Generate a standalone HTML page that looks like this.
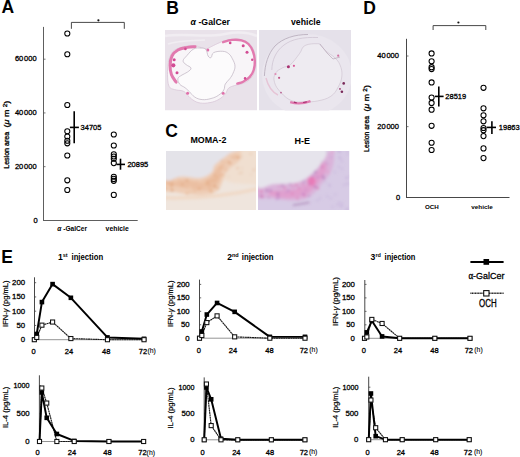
<!DOCTYPE html>
<html><head><meta charset="utf-8"><style>
html,body{margin:0;padding:0;background:#fff;}
body{width:520px;height:457px;overflow:hidden;}
svg{display:block;font-family:"Liberation Sans", sans-serif;}
</style></head><body>
<svg width="520" height="457" viewBox="0 0 520 457">
<rect width="520" height="457" fill="#fff"/>
<text x="1.5" y="12.8" font-size="17.5" font-weight="bold">A</text>
<text x="166.3" y="13.6" font-size="17.5" font-weight="bold">B</text>
<text x="165.3" y="137.3" font-size="17.5" font-weight="bold">C</text>
<text x="363.3" y="14.1" font-size="17.5" font-weight="bold">D</text>
<text x="1.2" y="262.8" font-size="17.5" font-weight="bold">E</text>
<line x1="43.5" y1="26.9" x2="43.5" y2="221.0" stroke="#5e5e5e" stroke-width="1"/>
<line x1="43.0" y1="220.5" x2="137.7" y2="220.5" stroke="#5e5e5e" stroke-width="1"/>
<line x1="43.5" y1="59.20000000000002" x2="45.5" y2="59.20000000000002" stroke="#555" stroke-width="0.8"/>
<text x="36.6" y="61.40000000000002" font-size="7.5" text-anchor="end" stroke="#000" stroke-width="0.3">60<tspan dx="0.8">000</tspan></text>
<line x1="43.5" y1="112.93333333333334" x2="45.5" y2="112.93333333333334" stroke="#555" stroke-width="0.8"/>
<text x="36.6" y="115.13333333333334" font-size="7.5" text-anchor="end" stroke="#000" stroke-width="0.3">40<tspan dx="0.8">000</tspan></text>
<line x1="43.5" y1="166.66666666666669" x2="45.5" y2="166.66666666666669" stroke="#555" stroke-width="0.8"/>
<text x="36.6" y="168.86666666666667" font-size="7.5" text-anchor="end" stroke="#000" stroke-width="0.3">20<tspan dx="0.8">000</tspan></text>
<text x="37.6" y="222.6" font-size="7.5" text-anchor="end" stroke="#000" stroke-width="0.3">0</text>
<circle cx="67.3" cy="33.5" r="2.55" fill="none" stroke="#000" stroke-width="1.05"/>
<circle cx="67.3" cy="54.2" r="2.55" fill="none" stroke="#000" stroke-width="1.05"/>
<circle cx="67.3" cy="105.0" r="2.55" fill="none" stroke="#000" stroke-width="1.05"/>
<circle cx="67.3" cy="131.2" r="2.55" fill="none" stroke="#000" stroke-width="1.05"/>
<circle cx="67.3" cy="136.5" r="2.55" fill="none" stroke="#000" stroke-width="1.05"/>
<circle cx="67.3" cy="140.7" r="2.55" fill="none" stroke="#000" stroke-width="1.05"/>
<circle cx="67.3" cy="143.3" r="2.55" fill="none" stroke="#000" stroke-width="1.05"/>
<circle cx="67.3" cy="155.5" r="2.55" fill="none" stroke="#000" stroke-width="1.05"/>
<circle cx="67.3" cy="180.3" r="2.55" fill="none" stroke="#000" stroke-width="1.05"/>
<circle cx="67.3" cy="190.0" r="2.55" fill="none" stroke="#000" stroke-width="1.05"/>
<line x1="74.2" y1="111.3" x2="74.2" y2="143.3" stroke="#000" stroke-width="1.6"/>
<line x1="69.9" y1="127.4" x2="78.9" y2="127.4" stroke="#000" stroke-width="1.6"/>
<text x="80.6" y="129.70000000000002" font-size="7.5" stroke="#000" stroke-width="0.3">34705</text>
<circle cx="113.8" cy="134.5" r="2.55" fill="none" stroke="#000" stroke-width="1.05"/>
<circle cx="113.8" cy="145.5" r="2.55" fill="none" stroke="#000" stroke-width="1.05"/>
<circle cx="113.8" cy="154.2" r="2.55" fill="none" stroke="#000" stroke-width="1.05"/>
<circle cx="113.8" cy="156.5" r="2.55" fill="none" stroke="#000" stroke-width="1.05"/>
<circle cx="113.8" cy="158.7" r="2.55" fill="none" stroke="#000" stroke-width="1.05"/>
<circle cx="113.8" cy="163.1" r="2.55" fill="none" stroke="#000" stroke-width="1.05"/>
<circle cx="113.8" cy="176.7" r="2.55" fill="none" stroke="#000" stroke-width="1.05"/>
<circle cx="113.8" cy="178.9" r="2.55" fill="none" stroke="#000" stroke-width="1.05"/>
<circle cx="113.8" cy="180.8" r="2.55" fill="none" stroke="#000" stroke-width="1.05"/>
<circle cx="113.8" cy="194.9" r="2.55" fill="none" stroke="#000" stroke-width="1.05"/>
<line x1="120.5" y1="158.7" x2="120.5" y2="169.7" stroke="#000" stroke-width="1.6"/>
<line x1="116.4" y1="164.4" x2="125.0" y2="164.4" stroke="#000" stroke-width="1.6"/>
<text x="127.4" y="166.70000000000002" font-size="7.5" stroke="#000" stroke-width="0.3">20895</text>
<path d="M71.4 28.8V22.4H124.3V28.8" fill="none" stroke="#333" stroke-width="0.9"/>
<circle cx="98.4" cy="20.3" r="1.1" fill="#111"/>
<text x="57.3" y="231.2" font-size="7.1" font-weight="bold" textLength="29.7" lengthAdjust="spacingAndGlyphs"><tspan font-style="italic">α</tspan> -GalCer</text>
<text x="105.6" y="231.2" font-size="7.1" font-weight="bold" textLength="23.2" lengthAdjust="spacingAndGlyphs">vehicle</text>
<text x="8.9" y="168.8" font-size="7" textLength="37" lengthAdjust="spacingAndGlyphs" transform="rotate(-90 8.9 168.8)" stroke="#000" stroke-width="0.3">Lesion area</text>
<text x="8.9" y="127.4" font-size="7" textLength="26.6" lengthAdjust="spacingAndGlyphs" transform="rotate(-90 8.9 127.4)" stroke="#000" stroke-width="0.3">(<tspan font-style="italic">μ</tspan> m <tspan font-size="5" dy="-2">2</tspan><tspan dy="2">)</tspan></text>
<line x1="406.5" y1="38.8" x2="406.5" y2="198.0" stroke="#474747" stroke-width="1"/>
<line x1="406.0" y1="197.5" x2="509.5" y2="197.5" stroke="#474747" stroke-width="1"/>
<line x1="406.5" y1="56.0" x2="408.5" y2="56.0" stroke="#555" stroke-width="0.8"/>
<text x="398.9" y="58.2" font-size="7.5" text-anchor="end" stroke="#000" stroke-width="0.3">40<tspan dx="0.8">000</tspan></text>
<line x1="406.5" y1="126.65" x2="408.5" y2="126.65" stroke="#555" stroke-width="0.8"/>
<text x="398.9" y="128.85" font-size="7.5" text-anchor="end" stroke="#000" stroke-width="0.3">20<tspan dx="0.8">000</tspan></text>
<text x="400.1" y="199.5" font-size="7.5" text-anchor="end" stroke="#000" stroke-width="0.3">0</text>
<circle cx="431.6" cy="53.4" r="2.55" fill="none" stroke="#000" stroke-width="1.05"/>
<circle cx="431.6" cy="61.2" r="2.55" fill="none" stroke="#000" stroke-width="1.05"/>
<circle cx="431.6" cy="67.2" r="2.55" fill="none" stroke="#000" stroke-width="1.05"/>
<circle cx="431.6" cy="69.1" r="2.55" fill="none" stroke="#000" stroke-width="1.05"/>
<circle cx="431.6" cy="82.4" r="2.55" fill="none" stroke="#000" stroke-width="1.05"/>
<circle cx="431.6" cy="97.6" r="2.55" fill="none" stroke="#000" stroke-width="1.05"/>
<circle cx="431.6" cy="102.9" r="2.55" fill="none" stroke="#000" stroke-width="1.05"/>
<circle cx="431.6" cy="109.7" r="2.55" fill="none" stroke="#000" stroke-width="1.05"/>
<circle cx="431.6" cy="125.8" r="2.55" fill="none" stroke="#000" stroke-width="1.05"/>
<circle cx="431.6" cy="142.7" r="2.55" fill="none" stroke="#000" stroke-width="1.05"/>
<circle cx="431.6" cy="150.0" r="2.55" fill="none" stroke="#000" stroke-width="1.05"/>
<line x1="438.8" y1="86.5" x2="438.8" y2="106.5" stroke="#000" stroke-width="1.6"/>
<line x1="435.0" y1="96.4" x2="443.6" y2="96.4" stroke="#000" stroke-width="1.6"/>
<text x="445.3" y="98.7" font-size="7.5" stroke="#000" stroke-width="0.3">28519</text>
<circle cx="483.5" cy="87.8" r="2.55" fill="none" stroke="#000" stroke-width="1.05"/>
<circle cx="483.5" cy="108.3" r="2.55" fill="none" stroke="#000" stroke-width="1.05"/>
<circle cx="483.5" cy="115.3" r="2.55" fill="none" stroke="#000" stroke-width="1.05"/>
<circle cx="483.5" cy="121.3" r="2.55" fill="none" stroke="#000" stroke-width="1.05"/>
<circle cx="483.5" cy="128.0" r="2.55" fill="none" stroke="#000" stroke-width="1.05"/>
<circle cx="483.5" cy="130.2" r="2.55" fill="none" stroke="#000" stroke-width="1.05"/>
<circle cx="483.5" cy="136.1" r="2.55" fill="none" stroke="#000" stroke-width="1.05"/>
<circle cx="483.5" cy="148.4" r="2.55" fill="none" stroke="#000" stroke-width="1.05"/>
<circle cx="483.5" cy="158.1" r="2.55" fill="none" stroke="#000" stroke-width="1.05"/>
<line x1="491.9" y1="121.3" x2="491.9" y2="133.9" stroke="#000" stroke-width="1.6"/>
<line x1="486.7" y1="127.4" x2="496.0" y2="127.4" stroke="#000" stroke-width="1.6"/>
<text x="498.8" y="129.70000000000002" font-size="7.5" stroke="#000" stroke-width="0.3">19863</text>
<path d="M433.1 30.0V25.6H485.8V30.0" fill="none" stroke="#333" stroke-width="0.9"/>
<circle cx="458.4" cy="22.5" r="1.1" fill="#111"/>
<text x="425.0" y="209.3" font-size="6.1" font-weight="bold" textLength="13.8" lengthAdjust="spacingAndGlyphs">OCH</text>
<text x="471.3" y="209.3" font-size="6.1" font-weight="bold" textLength="21.5" lengthAdjust="spacingAndGlyphs">vehicle</text>
<text x="369.2" y="151.9" font-size="6.8" textLength="36" lengthAdjust="spacingAndGlyphs" transform="rotate(-90 369.2 151.9)" stroke="#000" stroke-width="0.3">Lesion area</text>
<text x="369.2" y="111.4" font-size="6.8" textLength="26.2" lengthAdjust="spacingAndGlyphs" transform="rotate(-90 369.2 111.4)" stroke="#000" stroke-width="0.3">(<tspan font-style="italic">μ</tspan> m <tspan font-size="5" dy="-2">2</tspan><tspan dy="2">)</tspan></text>
<defs>
<filter id="bl1" x="-10%" y="-10%" width="120%" height="120%"><feGaussianBlur stdDeviation="0.6"/></filter>
<filter id="bl2" x="-10%" y="-10%" width="120%" height="120%"><feGaussianBlur stdDeviation="1.4"/></filter>
<clipPath id="cb1"><rect x="165" y="30" width="92" height="80.5"/></clipPath>
<clipPath id="cb2"><rect x="259" y="30" width="92" height="80.5"/></clipPath>
<clipPath id="cc1"><rect x="166" y="151" width="90" height="59"/></clipPath>
<clipPath id="cc2"><rect x="258" y="151" width="91.5" height="59"/></clipPath>
</defs>
<g clip-path="url(#cb1)">
<rect x="165" y="30" width="92" height="80.5" fill="#e9e2ea"/>
<g filter="url(#bl1)">
<path d="M165 36 C185 33 205 38 225 34 C240 31 250 33 257 36" fill="none" stroke="#f1edf2" stroke-width="2.5"/>
<path d="M168 44 C180 40 192 41 205 40" fill="none" stroke="#f1edf2" stroke-width="1.5"/>
<path d="M169.5 57.9 C170.7 55.1 171.4 52.6 174.2 50.4 C177.0 48.2 179.4 47.6 183.5 46.7 C187.6 45.8 191.2 45.5 194.7 45.7 C198.2 45.9 198.9 47.0 201.2 47.6 C203.5 48.2 204.2 49.2 206.3 48.9 C208.4 48.6 209.4 47.5 211.9 46.3 C214.4 45.1 216.1 44.1 219.0 42.9 C221.9 41.7 222.7 41.0 226.4 40.3 C230.1 39.6 233.5 38.9 237.6 39.2 C241.7 39.5 243.9 39.9 247.0 41.8 C250.1 43.7 251.2 45.3 252.9 48.5 C254.6 51.7 254.9 53.8 255.4 57.9 C255.9 62.0 256.1 65.0 255.2 69.0 C254.3 73.0 253.4 75.2 251.1 78.0 C248.8 80.8 246.9 81.7 243.6 83.2 C240.3 84.7 237.8 84.5 234.8 85.5 C231.8 86.5 230.6 86.5 228.7 88.1 C226.8 89.7 227.4 91.5 225.5 93.7 C223.6 95.9 222.1 97.5 219.0 99.3 C215.9 101.1 213.7 101.9 210.0 102.6 C206.3 103.3 203.7 103.5 200.3 103.0 C196.9 102.5 195.4 101.6 192.9 100.0 C190.4 98.4 189.6 97.0 187.6 95.2 C185.6 93.4 185.7 92.2 183.1 91.1 C180.5 90.0 177.4 90.6 174.6 89.6 C171.8 88.6 170.4 89.2 169.0 86.2 C167.6 83.2 167.7 79.0 167.5 74.6 C167.3 70.2 167.8 67.7 168.2 64.4 C168.6 61.1 168.3 60.7 169.5 57.9 Z" fill="#f8f5f8" stroke="#d9c8d8" stroke-width="0.8"/>
<path d="M176.1 82.1 C175.2 80.6 172.6 78.0 171.4 74.6 C170.2 71.2 170.0 69.0 170.1 65.3 C170.2 61.6 170.4 59.1 172.0 56.0 C173.6 52.9 174.8 51.7 177.9 50.0 C181.0 48.3 183.9 48.1 187.3 47.4 C190.7 46.7 193.5 46.8 195.1 46.7" fill="none" stroke="#e27aaf" stroke-width="3.0" stroke-linecap="round"/>
<path d="M223.1 42.2 C224.9 41.7 228.3 40.3 232.0 39.9 C235.7 39.5 238.1 39.5 241.4 40.3 C244.7 41.1 246.1 41.8 248.4 44.0 C250.7 46.2 251.6 48.0 252.9 51.3 C254.2 54.6 254.6 56.9 254.8 60.6 C255.0 64.3 254.7 66.7 253.7 70.0 C252.7 73.3 251.9 74.6 249.8 76.9 C247.7 79.2 245.7 80.4 243.2 81.7 C240.7 83.0 238.5 83.2 237.3 83.6" fill="none" stroke="#e27aaf" stroke-width="2.4" stroke-linecap="round"/>
<circle cx="173.3" cy="65.3" r="2.1" fill="#d24c94"/>
<circle cx="174.2" cy="59.7" r="1.5" fill="#d24c94"/>
<circle cx="177.0" cy="72.8" r="1.5" fill="#d24c94"/>
<circle cx="185.4" cy="48.9" r="1.3" fill="#d24c94"/>
<circle cx="230.2" cy="42.9" r="1.3" fill="#d24c94"/>
<circle cx="243.2" cy="45.7" r="1.5" fill="#d24c94"/>
<circle cx="247.0" cy="52.3" r="1.5" fill="#d24c94"/>
<circle cx="252.2" cy="59.7" r="1.2" fill="#d24c94"/>
<circle cx="245.1" cy="78.4" r="1.3" fill="#d24c94"/>
<circle cx="207.8" cy="50.0" r="1.5" fill="#e070aa"/>
<circle cx="187.6" cy="93.3" r="1.5" fill="#e070aa"/>
<circle cx="223.1" cy="93.3" r="1.5" fill="#e070aa"/>
<path d="M193.8 48.9 C196.7 47.4 198.8 48.0 201.2 48.1 C203.6 48.2 204.5 47.9 205.9 49.5 C207.3 51.1 207.1 54.4 208.1 56.0 C209.1 57.6 210.0 58.2 211.1 57.5 C212.2 56.8 211.4 53.8 213.7 52.6 C216.0 51.4 219.7 51.1 222.7 51.3 C225.7 51.5 226.8 52.2 228.7 53.7 C230.6 55.2 231.1 56.3 232.4 58.8 C233.7 61.3 234.9 63.3 235.0 66.2 C235.1 69.1 234.1 70.6 233.1 73.1 C232.1 75.6 231.4 76.5 229.8 78.7 C228.2 80.9 226.5 81.8 225.3 84.0 C224.1 86.2 225.1 87.7 223.8 89.9 C222.5 92.1 221.1 93.5 218.6 95.2 C216.1 96.9 214.4 97.6 211.1 98.5 C207.8 99.4 205.5 99.9 202.2 99.6 C198.9 99.3 197.2 98.6 194.7 97.0 C192.2 95.4 191.4 93.7 189.5 91.8 C187.6 89.9 186.9 89.2 185.0 87.7 C183.1 86.2 181.2 86.1 179.8 84.3 C178.4 82.5 177.5 80.6 177.9 78.7 C178.3 76.8 180.1 76.3 182.0 75.0 C183.9 73.7 185.8 73.4 187.6 72.0 C189.4 70.6 191.3 69.6 191.0 68.1 C190.7 66.6 187.7 66.1 186.1 64.6 C184.5 63.1 182.9 62.6 183.1 60.8 C183.3 59.0 184.8 58.0 186.9 55.6 C189.0 53.2 190.9 50.4 193.8 48.9 Z" fill="#fcfbfc" stroke="#bdb2c0" stroke-width="0.7"/>
</g></g>
<g clip-path="url(#cb2)">
<rect x="259" y="30" width="92" height="80.5" fill="#e5e1ea"/>
<g filter="url(#bl1)">
<ellipse cx="307" cy="75" rx="45" ry="41" fill="#eae6ee"/>
<path d="M290.2 64.9 C293.5 62.1 296.4 57.7 299.4 53.8 C302.4 49.9 301.3 47.5 305.0 45.5 C308.7 43.5 314.8 43.7 317.9 43.7 C321.0 43.7 318.9 43.8 320.7 45.5 C322.5 47.2 324.3 49.6 327.1 52.0 C329.9 54.4 331.9 54.9 334.5 57.5 C337.1 60.1 338.5 61.2 340.0 64.9 C341.5 68.6 342.3 71.6 341.9 76.0 C341.5 80.4 340.4 82.9 338.2 87.0 C336.0 91.1 334.9 93.5 330.8 96.3 C326.7 99.1 323.1 99.8 317.9 100.9 C312.7 102.0 310.2 101.8 305.0 101.8 C299.8 101.8 296.9 102.7 292.1 100.9 C287.3 99.1 284.5 96.3 281.0 92.6 C277.5 88.9 275.6 86.3 274.5 82.4 C273.4 78.5 273.8 76.1 275.5 73.2 C277.2 70.3 279.9 69.4 282.8 67.7 C285.7 66.0 286.9 67.7 290.2 64.9 Z" fill="#eeebf1" stroke="#cbc0cd" stroke-width="0.6"/>
<path d="M264.4 76 C265 64 268 54 275 46 C283 38 295 34.5 308 34.5" fill="none" stroke="#b4a8b8" stroke-width="0.8"/>
<path d="M271.8 70 C272 60 276 51 284 45 C292 39 303 37 318 37.5" fill="none" stroke="#cfc5d3" stroke-width="0.8"/>
<path d="M320 44 L327 53 L333 59 L340 57" fill="none" stroke="#b8a8b8" stroke-width="0.7"/>
<path d="M266 78 C268 86 272 92 278 95" fill="none" stroke="#e6c4d6" stroke-width="1.4"/>
<circle cx="288.4" cy="66.7" r="1.5" fill="#a83070"/>
<circle cx="293.9" cy="65.8" r="1.1" fill="#d85898"/>
<circle cx="343.7" cy="83.4" r="1.3" fill="#7a2a5a"/>
<circle cx="341.9" cy="91.7" r="1.3" fill="#7a2a5a"/>
<circle cx="340.0" cy="88.9" r="0.9" fill="#9a3a70"/>
<circle cx="279.1" cy="77.8" r="1.1" fill="#c05a8a"/>
<circle cx="281.0" cy="92.6" r="0.9" fill="#b86090"/>
<circle cx="338.2" cy="55.7" r="1.1" fill="#d070a0"/>
<circle cx="275.5" cy="74.1" r="1.1" fill="#e090b8"/>
<path d="M290.2 102.2 Q300.4 105.1 310.5 101.1" stroke="#e07ab0" stroke-width="2.4" fill="none"/>
<path d="M293.9 102.2 L296.7 102.9 M303.1 102.5 L306.8 101.8" stroke="#a83070" stroke-width="1.2" fill="none"/>
</g></g>
<g clip-path="url(#cc1)">
<rect x="166" y="151" width="90" height="59" fill="#efe5dd"/>
<g filter="url(#bl2)">
<path d="M218.2 149 H258 V185.2 C245.4 183.4 227.3 185.2 218.2 176.1 Z" fill="#f0dfd0"/>
<path d="M164.0 177.9 C167.6 175.1 174.9 176.2 182.1 176.1 C189.3 176.0 194.3 178.5 200.2 177.6 C206.1 176.7 208.5 174.2 211.4 171.6 C214.3 169.0 212.1 167.3 214.6 164.4 C217.1 161.5 220.4 159.6 223.7 157.1 C227.0 154.6 227.7 153.1 230.9 151.7 C234.1 150.3 238.1 148.3 239.9 149.9 C241.7 151.5 242.1 156.0 239.9 159.8 C237.7 163.6 232.3 165.3 229.1 168.9 C225.9 172.5 225.9 173.7 223.7 177.9 C221.5 182.1 221.5 186.4 218.2 189.7 C214.9 193.0 212.8 193.2 207.4 194.2 C202.0 195.2 197.6 195.0 191.1 194.6 C184.6 194.2 180.2 192.9 174.8 192.0 C169.4 191.1 166.2 193.0 164.0 190.2 C161.8 187.4 160.4 180.7 164.0 177.9 Z" fill="#eecdb6"/>
<path d="M167.6 181.5 C170.7 180.4 175.6 179.8 182.1 179.7 C188.6 179.6 194.3 181.9 200.2 181.2 C206.1 180.5 208.2 178.6 211.4 176.1 C214.6 173.6 213.9 171.4 216.4 168.9 C218.9 166.4 222.6 162.4 223.7 163.5 C224.8 164.6 223.4 170.0 221.9 174.3 C220.4 178.6 219.7 182.1 216.4 185.2 C213.1 188.3 210.7 188.9 205.6 189.7 C200.5 190.5 197.3 189.8 191.1 189.1 C184.9 188.4 179.7 186.9 174.8 186.1 C169.9 185.3 168.1 186.1 166.7 185.2 C165.3 184.3 164.5 182.6 167.6 181.5 Z" fill="#ebbfa2"/>
<circle cx="206.5" cy="184.3" r="0.92" fill="#dc9c70"/>
<circle cx="221.7" cy="160.7" r="0.81" fill="#dc9c70"/>
<circle cx="166.8" cy="178.2" r="1.01" fill="#dc9c70"/>
<circle cx="172.0" cy="190.3" r="1.30" fill="#dc9c70"/>
<circle cx="235.3" cy="156.4" r="1.09" fill="#e8b48c"/>
<circle cx="165.0" cy="178.3" r="0.72" fill="#dc9c70"/>
<circle cx="216.6" cy="177.2" r="1.29" fill="#e8b48c"/>
<circle cx="177.8" cy="176.8" r="1.14" fill="#e4a678"/>
<circle cx="218.8" cy="164.3" r="0.86" fill="#f2d2b8"/>
<circle cx="209.5" cy="185.2" r="0.73" fill="#dc9c70"/>
<circle cx="220.7" cy="175.6" r="0.68" fill="#e4a678"/>
<circle cx="210.2" cy="181.8" r="0.69" fill="#e4a678"/>
<circle cx="209.1" cy="190.2" r="0.80" fill="#e4a678"/>
<circle cx="166.0" cy="189.1" r="0.65" fill="#dc9c70"/>
<circle cx="170.8" cy="177.5" r="1.12" fill="#f2d2b8"/>
<circle cx="217.8" cy="188.4" r="0.87" fill="#dc9c70"/>
<circle cx="207.5" cy="183.1" r="0.82" fill="#e4a678"/>
<circle cx="221.5" cy="181.7" r="1.06" fill="#f2d2b8"/>
<circle cx="194.7" cy="191.0" r="1.04" fill="#e8b48c"/>
<circle cx="174.6" cy="178.7" r="1.18" fill="#e8b48c"/>
<circle cx="200.0" cy="181.8" r="1.10" fill="#f2d2b8"/>
<circle cx="190.1" cy="187.3" r="1.00" fill="#f2d2b8"/>
<circle cx="223.1" cy="177.1" r="1.27" fill="#f2d2b8"/>
<circle cx="228.3" cy="161.6" r="0.78" fill="#dc9c70"/>
<circle cx="229.8" cy="163.1" r="1.25" fill="#dc9c70"/>
<circle cx="231.9" cy="157.2" r="0.74" fill="#dc9c70"/>
<circle cx="215.7" cy="190.1" r="0.92" fill="#f2d2b8"/>
<circle cx="225.2" cy="161.9" r="0.75" fill="#e4a678"/>
<circle cx="205.4" cy="183.7" r="0.94" fill="#f2d2b8"/>
<circle cx="238.1" cy="157.9" r="1.30" fill="#e8b48c"/>
<circle cx="205.3" cy="184.2" r="0.97" fill="#e8b48c"/>
<circle cx="214.4" cy="180.7" r="0.62" fill="#dc9c70"/>
<circle cx="216.9" cy="179.9" r="0.65" fill="#e8b48c"/>
<circle cx="214.6" cy="175.1" r="0.79" fill="#dc9c70"/>
<circle cx="185.4" cy="192.3" r="1.11" fill="#f2d2b8"/>
<circle cx="187.0" cy="180.4" r="1.11" fill="#dc9c70"/>
<circle cx="175.5" cy="181.2" r="1.10" fill="#f2d2b8"/>
<circle cx="166.2" cy="188.9" r="0.98" fill="#e8b48c"/>
<circle cx="215.0" cy="186.0" r="0.76" fill="#e8b48c"/>
<circle cx="238.3" cy="156.9" r="1.04" fill="#dc9c70"/>
<circle cx="239.1" cy="155.1" r="1.24" fill="#f2d2b8"/>
<circle cx="211.3" cy="192.2" r="1.16" fill="#e8b48c"/>
<circle cx="190.6" cy="191.4" r="0.69" fill="#e4a678"/>
<circle cx="228.0" cy="153.9" r="0.83" fill="#e4a678"/>
<circle cx="207.9" cy="181.5" r="0.75" fill="#dc9c70"/>
<circle cx="199.1" cy="188.9" r="1.19" fill="#e4a678"/>
<circle cx="181.0" cy="177.6" r="0.88" fill="#f2d2b8"/>
<circle cx="223.2" cy="174.5" r="0.95" fill="#e8b48c"/>
<circle cx="231.9" cy="153.4" r="0.81" fill="#f2d2b8"/>
<circle cx="212.4" cy="180.3" r="1.09" fill="#e8b48c"/>
<circle cx="166.1" cy="187.8" r="0.78" fill="#e8b48c"/>
<circle cx="171.2" cy="186.6" r="0.87" fill="#e4a678"/>
<circle cx="214.9" cy="186.6" r="1.26" fill="#dc9c70"/>
<circle cx="203.5" cy="182.2" r="0.86" fill="#f2d2b8"/>
<circle cx="190.9" cy="190.3" r="1.06" fill="#f2d2b8"/>
<circle cx="223.5" cy="174.8" r="0.64" fill="#dc9c70"/>
<circle cx="187.0" cy="193.5" r="1.04" fill="#e4a678"/>
<circle cx="168.9" cy="182.3" r="0.85" fill="#e4a678"/>
<circle cx="176.1" cy="179.3" r="1.15" fill="#f2d2b8"/>
<circle cx="222.7" cy="171.6" r="1.03" fill="#f2d2b8"/>
<circle cx="211.2" cy="190.1" r="1.22" fill="#e8b48c"/>
<circle cx="215.8" cy="188.8" r="0.94" fill="#f2d2b8"/>
<circle cx="220.1" cy="167.3" r="0.90" fill="#e8b48c"/>
<circle cx="171.8" cy="184.5" r="1.17" fill="#dc9c70"/>
<circle cx="225.8" cy="169.6" r="0.83" fill="#e4a678"/>
<circle cx="205.5" cy="186.5" r="0.91" fill="#f2d2b8"/>
<circle cx="182.3" cy="184.5" r="0.98" fill="#dc9c70"/>
<circle cx="166.1" cy="181.5" r="1.00" fill="#e8b48c"/>
<circle cx="239.6" cy="153.0" r="1.15" fill="#f2d2b8"/>
<circle cx="172.0" cy="189.0" r="0.67" fill="#e8b48c"/>
<circle cx="239.1" cy="173.4" r="0.67" fill="#e0b090"/>
<circle cx="235.7" cy="184.9" r="0.64" fill="#f4e2d4"/>
<circle cx="251.2" cy="174.5" r="0.61" fill="#e0b090"/>
<circle cx="222.1" cy="172.2" r="0.68" fill="#f4e2d4"/>
<circle cx="234.2" cy="158.1" r="0.91" fill="#e0b090"/>
<circle cx="224.7" cy="174.4" r="0.84" fill="#f4e2d4"/>
<circle cx="250.7" cy="154.0" r="0.91" fill="#e8c0a0"/>
<circle cx="245.8" cy="158.6" r="0.97" fill="#f4e2d4"/>
<circle cx="226.1" cy="165.4" r="0.77" fill="#e8c0a0"/>
<circle cx="253.8" cy="170.0" r="0.94" fill="#e0b090"/>
<circle cx="242.0" cy="168.2" r="0.70" fill="#e8c0a0"/>
<circle cx="237.1" cy="171.3" r="0.80" fill="#f4e2d4"/>
<circle cx="241.5" cy="172.8" r="0.98" fill="#e8c0a0"/>
<circle cx="257.1" cy="173.6" r="0.97" fill="#f4e2d4"/>
<circle cx="253.2" cy="164.1" r="0.56" fill="#f4e2d4"/>
<circle cx="230.5" cy="163.4" r="0.79" fill="#e0b090"/>
<circle cx="249.5" cy="157.1" r="0.91" fill="#f4e2d4"/>
<circle cx="237.5" cy="168.6" r="0.84" fill="#e8c0a0"/>
<circle cx="223.6" cy="157.9" r="0.55" fill="#e0b090"/>
<circle cx="241.8" cy="157.1" r="0.64" fill="#e0b090"/>
<circle cx="237.6" cy="167.9" r="0.82" fill="#e0b090"/>
<circle cx="223.9" cy="166.6" r="0.67" fill="#e8c0a0"/>
<circle cx="238.4" cy="174.7" r="0.62" fill="#f4e2d4"/>
<circle cx="257.6" cy="166.8" r="0.68" fill="#e0b090"/>
<circle cx="228.8" cy="176.4" r="0.50" fill="#e0b090"/>
<path d="M164.0 149.0 C178.5 143.0 222.9 148.3 236.3 149.0 C249.7 149.7 233.4 150.8 230.9 152.6 C228.4 154.4 227.0 155.5 223.7 158.0 C220.4 160.5 217.1 162.4 214.6 165.3 C212.1 168.2 214.3 170.0 211.4 172.5 C208.5 175.0 206.1 177.1 200.2 177.9 C194.3 178.7 189.3 176.3 182.1 176.5 C174.9 176.7 167.6 184.3 164.0 178.8 C160.4 173.3 149.5 155.0 164.0 149.0 Z" fill="#e4e3e9"/>
<path d="M164 197.8 C191.1 198.7 227.3 196.0 258 188.8" stroke="#f0d8c4" stroke-width="3" fill="none"/>
</g></g>
<g clip-path="url(#cc2)">
<rect x="258" y="151" width="91.5" height="59" fill="#d7cbe5"/>
<g filter="url(#bl2)">
<path d="M256.0 184.9 C259.7 182.3 267.1 184.4 274.5 184.0 C281.9 183.6 287.0 184.0 292.9 183.1 C298.8 182.2 300.3 181.3 304.0 179.4 C307.7 177.5 308.5 176.4 311.4 173.8 C314.3 171.2 316.1 169.4 318.7 166.5 C321.3 163.6 322.5 162.1 324.3 159.1 C326.1 156.1 325.8 153.6 327.6 151.7 C329.4 149.8 332.3 147.6 333.5 149.8 C334.7 152.0 334.2 158.0 333.5 162.8 C332.8 167.6 332.0 169.7 329.8 173.8 C327.6 177.9 325.4 179.4 322.4 183.1 C319.4 186.8 318.3 189.2 315.0 192.3 C311.7 195.4 310.2 197.0 305.8 198.7 C301.4 200.4 299.2 200.6 292.9 200.6 C286.6 200.6 281.9 199.4 274.5 198.7 C267.1 198.0 259.7 199.7 256.0 196.9 C252.3 194.1 252.3 187.5 256.0 184.9 Z" fill="#dab4da"/>
<path d="M270.8 191.4 C274.9 190.0 285.9 190.8 292.9 189.5 C299.9 188.2 301.7 187.3 305.8 184.9 C309.9 182.5 310.4 180.8 313.2 177.5 C316.0 174.2 317.5 171.6 319.7 168.3 C321.9 165.0 322.8 160.9 324.3 160.9 C325.8 160.9 327.7 164.6 327.0 168.3 C326.3 172.0 323.7 175.0 320.6 179.4 C317.5 183.8 315.1 187.0 311.4 190.4 C307.7 193.8 306.5 194.7 302.1 196.3 C297.7 197.9 295.1 198.2 289.2 198.2 C283.3 198.2 276.3 197.7 272.6 196.3 C268.9 194.9 266.7 192.8 270.8 191.4 Z" fill="#e0a0cf"/>
<ellipse cx="311.4" cy="181.2" rx="4" ry="4.5" fill="#e87cb8"/>
<circle cx="271.8" cy="192.1" r="0.94" fill="#e898c8"/>
<circle cx="276.7" cy="198.7" r="0.95" fill="#c080c8"/>
<circle cx="291.6" cy="185.5" r="0.70" fill="#e070b0"/>
<circle cx="322.6" cy="176.0" r="1.03" fill="#b070b8"/>
<circle cx="299.5" cy="183.3" r="0.88" fill="#e898c8"/>
<circle cx="270.5" cy="190.6" r="1.21" fill="#b070b8"/>
<circle cx="278.5" cy="197.9" r="1.07" fill="#c080c8"/>
<circle cx="309.8" cy="183.8" r="0.74" fill="#b070b8"/>
<circle cx="308.8" cy="195.9" r="1.00" fill="#c080c8"/>
<circle cx="266.8" cy="190.9" r="1.18" fill="#e898c8"/>
<circle cx="287.9" cy="196.8" r="0.77" fill="#e898c8"/>
<circle cx="305.9" cy="190.1" r="0.88" fill="#c080c8"/>
<circle cx="313.7" cy="175.3" r="0.82" fill="#b070b8"/>
<circle cx="258.3" cy="186.0" r="1.20" fill="#c080c8"/>
<circle cx="292.3" cy="193.4" r="1.02" fill="#e070b0"/>
<circle cx="304.5" cy="195.7" r="1.15" fill="#e070b0"/>
<circle cx="262.1" cy="196.9" r="1.20" fill="#c080c8"/>
<circle cx="303.0" cy="184.7" r="0.96" fill="#e070b0"/>
<circle cx="285.8" cy="192.8" r="0.64" fill="#c080c8"/>
<circle cx="299.0" cy="187.8" r="1.08" fill="#e070b0"/>
<circle cx="323.7" cy="178.1" r="1.21" fill="#b070b8"/>
<circle cx="282.5" cy="185.7" r="1.11" fill="#b070b8"/>
<circle cx="303.2" cy="193.9" r="1.15" fill="#c080c8"/>
<circle cx="293.1" cy="187.3" r="0.71" fill="#e070b0"/>
<circle cx="315.5" cy="172.0" r="1.29" fill="#b070b8"/>
<circle cx="297.6" cy="191.4" r="1.05" fill="#e898c8"/>
<circle cx="321.4" cy="164.7" r="0.83" fill="#e070b0"/>
<circle cx="270.7" cy="191.6" r="0.77" fill="#c080c8"/>
<circle cx="312.1" cy="177.9" r="1.06" fill="#e070b0"/>
<circle cx="303.7" cy="181.7" r="0.93" fill="#b070b8"/>
<circle cx="284.6" cy="188.1" r="1.07" fill="#e070b0"/>
<circle cx="304.3" cy="194.6" r="0.61" fill="#c080c8"/>
<circle cx="261.3" cy="191.6" r="1.28" fill="#e070b0"/>
<circle cx="314.9" cy="186.9" r="1.05" fill="#b070b8"/>
<circle cx="256.4" cy="190.5" r="1.00" fill="#e898c8"/>
<circle cx="277.8" cy="195.0" r="1.07" fill="#b070b8"/>
<circle cx="290.0" cy="184.0" r="1.02" fill="#b070b8"/>
<circle cx="328.1" cy="172.0" r="1.11" fill="#e898c8"/>
<circle cx="327.6" cy="163.9" r="0.70" fill="#c080c8"/>
<circle cx="321.5" cy="166.9" r="0.96" fill="#c080c8"/>
<circle cx="268.9" cy="197.4" r="0.75" fill="#b070b8"/>
<circle cx="321.9" cy="169.4" r="0.61" fill="#e898c8"/>
<circle cx="261.8" cy="196.4" r="1.30" fill="#e070b0"/>
<circle cx="278.3" cy="193.1" r="0.95" fill="#b070b8"/>
<circle cx="317.1" cy="188.7" r="0.70" fill="#e898c8"/>
<circle cx="312.3" cy="176.1" r="0.61" fill="#c080c8"/>
<circle cx="317.7" cy="177.1" r="1.14" fill="#c080c8"/>
<circle cx="322.5" cy="167.2" r="0.92" fill="#e070b0"/>
<circle cx="317.8" cy="188.2" r="1.13" fill="#e070b0"/>
<circle cx="275.5" cy="192.8" r="0.66" fill="#e070b0"/>
<circle cx="279.3" cy="186.4" r="0.77" fill="#e070b0"/>
<circle cx="297.5" cy="198.5" r="0.88" fill="#e070b0"/>
<circle cx="296.1" cy="184.9" r="1.22" fill="#e070b0"/>
<circle cx="288.7" cy="190.5" r="0.87" fill="#e898c8"/>
<circle cx="332.9" cy="151.4" r="1.01" fill="#e898c8"/>
<circle cx="269.2" cy="194.2" r="0.82" fill="#e898c8"/>
<circle cx="266.8" cy="190.4" r="1.23" fill="#b070b8"/>
<circle cx="260.7" cy="195.7" r="0.96" fill="#b070b8"/>
<circle cx="316.1" cy="186.9" r="0.73" fill="#b070b8"/>
<circle cx="288.3" cy="190.7" r="1.20" fill="#c080c8"/>
<path d="M256.0 148.0 C270.6 140.6 314.6 147.3 328.9 148.0 C343.2 148.7 328.5 149.5 327.6 151.7 C326.7 153.9 326.1 156.1 324.3 159.1 C322.5 162.1 321.3 163.6 318.7 166.5 C316.1 169.4 314.3 171.2 311.4 173.8 C308.5 176.4 307.7 177.5 304.0 179.4 C300.3 181.3 298.8 182.2 292.9 183.1 C287.0 184.0 281.9 183.6 274.5 184.0 C267.1 184.4 259.7 192.1 256.0 184.9 C252.3 177.7 241.4 155.4 256.0 148.0 Z" fill="#e6e4ec"/>
<path d="M292.9 205.2 L309.5 202.4" stroke="#8a5090" stroke-width="0.8"/>
<circle cx="325.2" cy="182.1" r="0.7" fill="#b49ad0"/>
<circle cx="329.9" cy="185.9" r="0.7" fill="#b49ad0"/>
<circle cx="338.8" cy="152.1" r="0.7" fill="#b49ad0"/>
<circle cx="317.3" cy="200.5" r="0.7" fill="#b49ad0"/>
<circle cx="326.0" cy="162.7" r="0.7" fill="#b49ad0"/>
<circle cx="351.8" cy="177.5" r="0.7" fill="#b49ad0"/>
<circle cx="346.2" cy="177.9" r="0.7" fill="#b49ad0"/>
<circle cx="339.3" cy="157.4" r="0.7" fill="#b49ad0"/>
<circle cx="339.1" cy="202.5" r="0.7" fill="#b49ad0"/>
<circle cx="335.2" cy="194.5" r="0.7" fill="#b49ad0"/>
<circle cx="340.4" cy="152.0" r="0.7" fill="#b49ad0"/>
<circle cx="343.5" cy="185.1" r="0.7" fill="#b49ad0"/>
<circle cx="327.4" cy="149.9" r="0.7" fill="#b49ad0"/>
<circle cx="347.2" cy="177.7" r="0.7" fill="#b49ad0"/>
<circle cx="342.1" cy="203.1" r="0.7" fill="#b49ad0"/>
<circle cx="341.9" cy="205.8" r="0.7" fill="#b49ad0"/>
<circle cx="330.7" cy="198.2" r="0.7" fill="#b49ad0"/>
<circle cx="332.5" cy="206.7" r="0.7" fill="#b49ad0"/>
<circle cx="347.7" cy="154.1" r="0.7" fill="#b49ad0"/>
<circle cx="321.7" cy="161.6" r="0.7" fill="#b49ad0"/>
<circle cx="350.7" cy="175.4" r="0.7" fill="#b49ad0"/>
<circle cx="338.9" cy="166.9" r="0.7" fill="#b49ad0"/>
<circle cx="334.7" cy="172.2" r="0.7" fill="#b49ad0"/>
<circle cx="329.2" cy="184.7" r="0.7" fill="#b49ad0"/>
<circle cx="337.4" cy="204.7" r="0.7" fill="#b49ad0"/>
<circle cx="340.8" cy="206.3" r="0.7" fill="#b49ad0"/>
<circle cx="346.9" cy="210.2" r="0.7" fill="#b49ad0"/>
<circle cx="340.4" cy="158.2" r="0.7" fill="#b49ad0"/>
<circle cx="347.1" cy="208.5" r="0.7" fill="#b49ad0"/>
<circle cx="348.6" cy="183.7" r="0.7" fill="#b49ad0"/>
<circle cx="341.9" cy="161.2" r="0.7" fill="#b49ad0"/>
<circle cx="346.0" cy="184.0" r="0.7" fill="#b49ad0"/>
<circle cx="326.9" cy="152.0" r="0.7" fill="#b49ad0"/>
<circle cx="346.8" cy="210.1" r="0.7" fill="#b49ad0"/>
<circle cx="320.0" cy="198.2" r="0.7" fill="#b49ad0"/>
<circle cx="331.3" cy="157.5" r="0.7" fill="#b49ad0"/>
<circle cx="327.2" cy="196.2" r="0.7" fill="#b49ad0"/>
<circle cx="347.5" cy="150.8" r="0.7" fill="#b49ad0"/>
<circle cx="338.4" cy="150.8" r="0.7" fill="#b49ad0"/>
<circle cx="342.1" cy="168.8" r="0.7" fill="#b49ad0"/>
</g></g>
<text x="190.6" y="24.8" font-size="8.7" font-weight="bold" textLength="39.4" lengthAdjust="spacingAndGlyphs"><tspan font-style="italic">α</tspan> -GalCer</text>
<text x="291.0" y="24.8" font-size="8.7" font-weight="bold" textLength="29.5" lengthAdjust="spacingAndGlyphs">vehicle</text>
<text x="190.4" y="143.2" font-size="8.7" font-weight="bold" textLength="36" lengthAdjust="spacingAndGlyphs">MOMA-2</text>
<text x="294.5" y="144.4" font-size="8.7" font-weight="bold" textLength="15.5" lengthAdjust="spacingAndGlyphs">H-E</text>
<line x1="34.5" y1="277.3" x2="34.5" y2="340.2" stroke="#333" stroke-width="0.9"/>
<line x1="34.05" y1="339.7" x2="146.02800000000002" y2="339.7" stroke="#888" stroke-width="0.9"/>
<text x="25.1" y="342.0" font-size="7.8" text-anchor="end" stroke="#000" stroke-width="0.3">0</text>
<line x1="34.5" y1="325.45" x2="36.2" y2="325.45" stroke="#444" stroke-width="0.8"/>
<text x="25.1" y="327.75" font-size="7.8" text-anchor="end" stroke="#000" stroke-width="0.3">50</text>
<line x1="34.5" y1="311.2" x2="36.2" y2="311.2" stroke="#444" stroke-width="0.8"/>
<text x="25.1" y="313.5" font-size="7.8" text-anchor="end" stroke="#000" stroke-width="0.3">100</text>
<line x1="34.5" y1="296.95" x2="36.2" y2="296.95" stroke="#444" stroke-width="0.8"/>
<text x="25.1" y="299.25" font-size="7.8" text-anchor="end" stroke="#000" stroke-width="0.3">150</text>
<line x1="34.5" y1="282.7" x2="36.2" y2="282.7" stroke="#444" stroke-width="0.8"/>
<text x="25.1" y="285.0" font-size="7.8" text-anchor="end" stroke="#000" stroke-width="0.3">200</text>
<text x="33.5" y="353.6" font-size="7.5" text-anchor="middle" stroke="#000" stroke-width="0.3">0</text>
<text x="69.0" y="353.6" font-size="7.5" text-anchor="middle" stroke="#000" stroke-width="0.3">24</text>
<text x="106.2" y="353.6" font-size="7.5" text-anchor="middle" stroke="#000" stroke-width="0.3">48</text>
<text x="143.0" y="353.6" font-size="7.5" text-anchor="middle" stroke="#000" stroke-width="0.3">72</text>
<text x="147.5" y="353.3" font-size="7.2" textLength="8.4" lengthAdjust="spacingAndGlyphs" stroke="#000" stroke-width="0.1">(h)</text>
<polyline points="34.30,339.70 36.74,337.42 41.92,325.16 52.59,322.03 70.88,338.56 107.45,339.70 144.03,339.70" fill="none" stroke="#1a1a1a" stroke-width="1.15" stroke-dasharray="2 0.4"/>
<polyline points="34.30,339.70 36.74,334.00 41.92,302.08 52.59,284.12 70.88,297.81 107.45,337.42 144.03,338.84" fill="none" stroke="#000" stroke-width="1.95" stroke-linejoin="round"/>
<rect x="32.00" y="337.40" width="4.6" height="4.6" fill="#000"/>
<rect x="34.44" y="331.70" width="4.6" height="4.6" fill="#000"/>
<rect x="39.62" y="299.78" width="4.6" height="4.6" fill="#000"/>
<rect x="50.29" y="281.82" width="4.6" height="4.6" fill="#000"/>
<rect x="68.58" y="295.50" width="4.6" height="4.6" fill="#000"/>
<rect x="105.15" y="335.12" width="4.6" height="4.6" fill="#000"/>
<rect x="141.73" y="336.54" width="4.6" height="4.6" fill="#000"/>
<rect x="32.25" y="337.65" width="4.1" height="4.1" fill="#fff" stroke="#111" stroke-width="1.05"/>
<rect x="34.69" y="335.37" width="4.1" height="4.1" fill="#fff" stroke="#111" stroke-width="1.05"/>
<rect x="39.87" y="323.11" width="4.1" height="4.1" fill="#fff" stroke="#111" stroke-width="1.05"/>
<rect x="50.54" y="319.98" width="4.1" height="4.1" fill="#fff" stroke="#111" stroke-width="1.05"/>
<rect x="68.83" y="336.51" width="4.1" height="4.1" fill="#fff" stroke="#111" stroke-width="1.05"/>
<rect x="105.40" y="337.65" width="4.1" height="4.1" fill="#fff" stroke="#111" stroke-width="1.05"/>
<rect x="141.98" y="337.65" width="4.1" height="4.1" fill="#fff" stroke="#111" stroke-width="1.05"/>
<text x="8.2" y="326.9" font-size="6.6" textLength="46.4" lengthAdjust="spacingAndGlyphs" transform="rotate(-90 8.2 326.9)" stroke="#000" stroke-width="0.2">IFN-<tspan font-style="italic">γ</tspan> (pg/mL)</text>
<line x1="199.5" y1="279.6" x2="199.5" y2="338.7" stroke="#333" stroke-width="0.9"/>
<line x1="199.05" y1="338.2" x2="307.0016" y2="338.2" stroke="#888" stroke-width="0.9"/>
<text x="189.7" y="340.5" font-size="7.8" text-anchor="end" stroke="#000" stroke-width="0.3">0</text>
<line x1="199.5" y1="324.75" x2="201.2" y2="324.75" stroke="#444" stroke-width="0.8"/>
<text x="189.7" y="327.05" font-size="7.8" text-anchor="end" stroke="#000" stroke-width="0.3">50</text>
<line x1="199.5" y1="311.3" x2="201.2" y2="311.3" stroke="#444" stroke-width="0.8"/>
<text x="189.7" y="313.6" font-size="7.8" text-anchor="end" stroke="#000" stroke-width="0.3">100</text>
<line x1="199.5" y1="297.84999999999997" x2="201.2" y2="297.84999999999997" stroke="#444" stroke-width="0.8"/>
<text x="189.7" y="300.15" font-size="7.8" text-anchor="end" stroke="#000" stroke-width="0.3">150</text>
<line x1="199.5" y1="284.4" x2="201.2" y2="284.4" stroke="#444" stroke-width="0.8"/>
<text x="189.7" y="286.7" font-size="7.8" text-anchor="end" stroke="#000" stroke-width="0.3">200</text>
<text x="198.8" y="352.6" font-size="7.5" text-anchor="middle" stroke="#000" stroke-width="0.3">0</text>
<text x="233.0" y="352.6" font-size="7.5" text-anchor="middle" stroke="#000" stroke-width="0.3">24</text>
<text x="269.5" y="352.6" font-size="7.5" text-anchor="middle" stroke="#000" stroke-width="0.3">48</text>
<text x="303.8" y="352.6" font-size="7.5" text-anchor="middle" stroke="#000" stroke-width="0.3">72</text>
<text x="309.3" y="352.3" font-size="7.2" textLength="8.4" lengthAdjust="spacingAndGlyphs" stroke="#000" stroke-width="0.1">(h)</text>
<polyline points="199.50,338.20 201.84,335.51 206.83,322.60 217.08,315.87 234.67,336.85 269.83,338.20 305.00,338.20" fill="none" stroke="#1a1a1a" stroke-width="1.15" stroke-dasharray="2 0.4"/>
<polyline points="199.50,338.20 201.84,331.47 206.83,314.53 217.08,302.96 234.67,311.84 269.83,336.85 305.00,336.85" fill="none" stroke="#000" stroke-width="1.95" stroke-linejoin="round"/>
<rect x="197.20" y="335.90" width="4.6" height="4.6" fill="#000"/>
<rect x="199.54" y="329.17" width="4.6" height="4.6" fill="#000"/>
<rect x="204.53" y="312.23" width="4.6" height="4.6" fill="#000"/>
<rect x="214.78" y="300.66" width="4.6" height="4.6" fill="#000"/>
<rect x="232.37" y="309.54" width="4.6" height="4.6" fill="#000"/>
<rect x="267.53" y="334.55" width="4.6" height="4.6" fill="#000"/>
<rect x="302.70" y="334.55" width="4.6" height="4.6" fill="#000"/>
<rect x="197.45" y="336.15" width="4.1" height="4.1" fill="#fff" stroke="#111" stroke-width="1.05"/>
<rect x="199.79" y="333.46" width="4.1" height="4.1" fill="#fff" stroke="#111" stroke-width="1.05"/>
<rect x="204.78" y="320.55" width="4.1" height="4.1" fill="#fff" stroke="#111" stroke-width="1.05"/>
<rect x="215.03" y="313.82" width="4.1" height="4.1" fill="#fff" stroke="#111" stroke-width="1.05"/>
<rect x="232.62" y="334.80" width="4.1" height="4.1" fill="#fff" stroke="#111" stroke-width="1.05"/>
<rect x="267.78" y="336.15" width="4.1" height="4.1" fill="#fff" stroke="#111" stroke-width="1.05"/>
<rect x="302.95" y="336.15" width="4.1" height="4.1" fill="#fff" stroke="#111" stroke-width="1.05"/>
<text x="173.39999999999998" y="326.9" font-size="6.6" textLength="46.4" lengthAdjust="spacingAndGlyphs" transform="rotate(-90 173.39999999999998 326.9)" stroke="#000" stroke-width="0.2">IFN-<tspan font-style="italic">γ</tspan> (pg/mL)</text>
<line x1="364.8" y1="280.0" x2="364.8" y2="338.8" stroke="#333" stroke-width="0.9"/>
<line x1="364.35" y1="338.3" x2="472.0016" y2="338.3" stroke="#888" stroke-width="0.9"/>
<text x="354.9" y="340.6" font-size="7.8" text-anchor="end" stroke="#000" stroke-width="0.3">0</text>
<line x1="364.8" y1="324.825" x2="366.5" y2="324.825" stroke="#444" stroke-width="0.8"/>
<text x="354.9" y="327.125" font-size="7.8" text-anchor="end" stroke="#000" stroke-width="0.3">50</text>
<line x1="364.8" y1="311.35" x2="366.5" y2="311.35" stroke="#444" stroke-width="0.8"/>
<text x="354.9" y="313.65000000000003" font-size="7.8" text-anchor="end" stroke="#000" stroke-width="0.3">100</text>
<line x1="364.8" y1="297.875" x2="366.5" y2="297.875" stroke="#444" stroke-width="0.8"/>
<text x="354.9" y="300.175" font-size="7.8" text-anchor="end" stroke="#000" stroke-width="0.3">150</text>
<line x1="364.8" y1="284.4" x2="366.5" y2="284.4" stroke="#444" stroke-width="0.8"/>
<text x="354.9" y="286.7" font-size="7.8" text-anchor="end" stroke="#000" stroke-width="0.3">200</text>
<text x="363.8" y="352.6" font-size="7.5" text-anchor="middle" stroke="#000" stroke-width="0.3">0</text>
<text x="398.0" y="352.6" font-size="7.5" text-anchor="middle" stroke="#000" stroke-width="0.3">24</text>
<text x="434.5" y="352.6" font-size="7.5" text-anchor="middle" stroke="#000" stroke-width="0.3">48</text>
<text x="468.8" y="352.6" font-size="7.5" text-anchor="middle" stroke="#000" stroke-width="0.3">72</text>
<text x="474.3" y="352.3" font-size="7.2" textLength="8.4" lengthAdjust="spacingAndGlyphs" stroke="#000" stroke-width="0.1">(h)</text>
<polyline points="364.50,338.30 366.84,336.95 371.83,319.44 382.08,323.48 399.67,338.30 434.83,338.30 470.00,338.30" fill="none" stroke="#1a1a1a" stroke-width="1.15" stroke-dasharray="2 0.4"/>
<polyline points="364.50,338.30 366.84,332.37 371.83,320.78 382.08,336.41 399.67,338.30 434.83,338.30 470.00,338.30" fill="none" stroke="#000" stroke-width="1.95" stroke-linejoin="round"/>
<rect x="362.20" y="336.00" width="4.6" height="4.6" fill="#000"/>
<rect x="364.54" y="330.07" width="4.6" height="4.6" fill="#000"/>
<rect x="369.53" y="318.48" width="4.6" height="4.6" fill="#000"/>
<rect x="379.78" y="334.11" width="4.6" height="4.6" fill="#000"/>
<rect x="397.37" y="336.00" width="4.6" height="4.6" fill="#000"/>
<rect x="432.53" y="336.00" width="4.6" height="4.6" fill="#000"/>
<rect x="467.70" y="336.00" width="4.6" height="4.6" fill="#000"/>
<rect x="362.45" y="336.25" width="4.1" height="4.1" fill="#fff" stroke="#111" stroke-width="1.05"/>
<rect x="364.79" y="334.90" width="4.1" height="4.1" fill="#fff" stroke="#111" stroke-width="1.05"/>
<rect x="369.78" y="317.38" width="4.1" height="4.1" fill="#fff" stroke="#111" stroke-width="1.05"/>
<rect x="380.03" y="321.43" width="4.1" height="4.1" fill="#fff" stroke="#111" stroke-width="1.05"/>
<rect x="397.62" y="336.25" width="4.1" height="4.1" fill="#fff" stroke="#111" stroke-width="1.05"/>
<rect x="432.78" y="336.25" width="4.1" height="4.1" fill="#fff" stroke="#111" stroke-width="1.05"/>
<rect x="467.95" y="336.25" width="4.1" height="4.1" fill="#fff" stroke="#111" stroke-width="1.05"/>
<text x="338.09999999999997" y="326.0" font-size="6.6" textLength="49.0" lengthAdjust="spacingAndGlyphs" transform="rotate(-90 338.09999999999997 326.0)" stroke="#000" stroke-width="0.2">IFN-<tspan font-style="italic">γ</tspan> (pg/mL)</text>
<line x1="39.4" y1="375.3" x2="39.4" y2="442.0" stroke="#333" stroke-width="0.9"/>
<line x1="38.949999999999996" y1="441.5" x2="145.648" y2="441.5" stroke="#888" stroke-width="0.9"/>
<text x="29.6" y="443.8" font-size="7.8" text-anchor="end" stroke="#000" stroke-width="0.3">0</text>
<line x1="39.4" y1="413.65" x2="41.1" y2="413.65" stroke="#444" stroke-width="0.8"/>
<text x="29.6" y="415.95" font-size="7.8" text-anchor="end" stroke="#000" stroke-width="0.3">500</text>
<line x1="39.4" y1="385.8" x2="41.1" y2="385.8" stroke="#444" stroke-width="0.8"/>
<text x="29.6" y="388.1" font-size="7.8" text-anchor="end" textLength="16.0" lengthAdjust="spacingAndGlyphs" stroke="#000" stroke-width="0.3">1000</text>
<text x="37.5" y="455.0" font-size="7.5" text-anchor="middle" stroke="#000" stroke-width="0.3">0</text>
<text x="72.0" y="455.0" font-size="7.5" text-anchor="middle" stroke="#000" stroke-width="0.3">24</text>
<text x="107.5" y="455.0" font-size="7.5" text-anchor="middle" stroke="#000" stroke-width="0.3">48</text>
<text x="142.5" y="455.0" font-size="7.5" text-anchor="middle" stroke="#000" stroke-width="0.3">72</text>
<text x="146.6" y="454.7" font-size="7.2" textLength="8.4" lengthAdjust="spacingAndGlyphs" stroke="#000" stroke-width="0.1">(h)</text>
<polyline points="39.50,441.50 41.81,388.03 46.73,403.07 56.86,441.50 74.22,441.50 108.93,441.50 143.65,441.50" fill="none" stroke="#1a1a1a" stroke-width="1.15" stroke-dasharray="2 0.4"/>
<polyline points="39.50,441.50 41.81,392.48 46.73,417.83 56.86,433.98 74.22,440.94 108.93,441.50 143.65,441.50" fill="none" stroke="#000" stroke-width="1.95" stroke-linejoin="round"/>
<rect x="37.20" y="439.20" width="4.6" height="4.6" fill="#000"/>
<rect x="39.51" y="390.18" width="4.6" height="4.6" fill="#000"/>
<rect x="44.43" y="415.53" width="4.6" height="4.6" fill="#000"/>
<rect x="54.56" y="431.68" width="4.6" height="4.6" fill="#000"/>
<rect x="71.92" y="438.64" width="4.6" height="4.6" fill="#000"/>
<rect x="106.63" y="439.20" width="4.6" height="4.6" fill="#000"/>
<rect x="141.35" y="439.20" width="4.6" height="4.6" fill="#000"/>
<rect x="37.45" y="439.45" width="4.1" height="4.1" fill="#fff" stroke="#111" stroke-width="1.05"/>
<rect x="39.76" y="385.98" width="4.1" height="4.1" fill="#fff" stroke="#111" stroke-width="1.05"/>
<rect x="44.68" y="401.02" width="4.1" height="4.1" fill="#fff" stroke="#111" stroke-width="1.05"/>
<rect x="54.81" y="439.45" width="4.1" height="4.1" fill="#fff" stroke="#111" stroke-width="1.05"/>
<rect x="72.17" y="439.45" width="4.1" height="4.1" fill="#fff" stroke="#111" stroke-width="1.05"/>
<rect x="106.88" y="439.45" width="4.1" height="4.1" fill="#fff" stroke="#111" stroke-width="1.05"/>
<rect x="141.60" y="439.45" width="4.1" height="4.1" fill="#fff" stroke="#111" stroke-width="1.05"/>
<text x="8.399999999999999" y="428.1" font-size="6.6" textLength="41.5" lengthAdjust="spacingAndGlyphs" transform="rotate(-90 8.399999999999999 428.1)" stroke="#000" stroke-width="0.2">IL-4 (pg/mL)</text>
<line x1="204.2" y1="377.4" x2="204.2" y2="440.3" stroke="#333" stroke-width="0.9"/>
<line x1="203.75" y1="439.8" x2="306.928" y2="439.8" stroke="#888" stroke-width="0.9"/>
<text x="194.5" y="442.1" font-size="7.8" text-anchor="end" stroke="#000" stroke-width="0.3">0</text>
<line x1="204.2" y1="413.5" x2="205.89999999999998" y2="413.5" stroke="#444" stroke-width="0.8"/>
<text x="194.5" y="415.8" font-size="7.8" text-anchor="end" stroke="#000" stroke-width="0.3">500</text>
<line x1="204.2" y1="387.2" x2="205.89999999999998" y2="387.2" stroke="#444" stroke-width="0.8"/>
<text x="194.5" y="389.5" font-size="7.8" text-anchor="end" textLength="16.0" lengthAdjust="spacingAndGlyphs" stroke="#000" stroke-width="0.3">1000</text>
<text x="202.5" y="454.6" font-size="7.5" text-anchor="middle" stroke="#000" stroke-width="0.3">0</text>
<text x="236.3" y="454.6" font-size="7.5" text-anchor="middle" stroke="#000" stroke-width="0.3">24</text>
<text x="270.0" y="454.6" font-size="7.5" text-anchor="middle" stroke="#000" stroke-width="0.3">48</text>
<text x="303.8" y="454.6" font-size="7.5" text-anchor="middle" stroke="#000" stroke-width="0.3">72</text>
<text x="308.9" y="454.3" font-size="7.2" textLength="8.4" lengthAdjust="spacingAndGlyphs" stroke="#000" stroke-width="0.1">(h)</text>
<polyline points="204.20,439.80 206.44,384.04 211.19,425.60 220.99,439.80 237.78,439.80 271.35,439.80 304.93,439.80" fill="none" stroke="#1a1a1a" stroke-width="1.15" stroke-dasharray="2 0.4"/>
<polyline points="204.20,439.80 206.44,387.46 211.19,399.30 220.99,438.75 237.78,439.80 271.35,439.80 304.93,439.80" fill="none" stroke="#000" stroke-width="1.95" stroke-linejoin="round"/>
<rect x="201.90" y="437.50" width="4.6" height="4.6" fill="#000"/>
<rect x="204.14" y="385.16" width="4.6" height="4.6" fill="#000"/>
<rect x="208.89" y="397.00" width="4.6" height="4.6" fill="#000"/>
<rect x="218.69" y="436.45" width="4.6" height="4.6" fill="#000"/>
<rect x="235.48" y="437.50" width="4.6" height="4.6" fill="#000"/>
<rect x="269.05" y="437.50" width="4.6" height="4.6" fill="#000"/>
<rect x="302.63" y="437.50" width="4.6" height="4.6" fill="#000"/>
<rect x="202.15" y="437.75" width="4.1" height="4.1" fill="#fff" stroke="#111" stroke-width="1.05"/>
<rect x="204.39" y="381.99" width="4.1" height="4.1" fill="#fff" stroke="#111" stroke-width="1.05"/>
<rect x="209.14" y="423.55" width="4.1" height="4.1" fill="#fff" stroke="#111" stroke-width="1.05"/>
<rect x="218.94" y="437.75" width="4.1" height="4.1" fill="#fff" stroke="#111" stroke-width="1.05"/>
<rect x="235.73" y="437.75" width="4.1" height="4.1" fill="#fff" stroke="#111" stroke-width="1.05"/>
<rect x="269.30" y="437.75" width="4.1" height="4.1" fill="#fff" stroke="#111" stroke-width="1.05"/>
<rect x="302.88" y="437.75" width="4.1" height="4.1" fill="#fff" stroke="#111" stroke-width="1.05"/>
<text x="173.39999999999998" y="428.6" font-size="6.6" textLength="41.1" lengthAdjust="spacingAndGlyphs" transform="rotate(-90 173.39999999999998 428.6)" stroke="#000" stroke-width="0.2">IL-4 (pg/mL)</text>
<line x1="368.7" y1="376.7" x2="368.7" y2="440.2" stroke="#333" stroke-width="0.9"/>
<line x1="368.25" y1="439.7" x2="471.212" y2="439.7" stroke="#888" stroke-width="0.9"/>
<text x="358.4" y="442.0" font-size="7.8" text-anchor="end" stroke="#000" stroke-width="0.3">0</text>
<line x1="368.7" y1="413.45" x2="370.4" y2="413.45" stroke="#444" stroke-width="0.8"/>
<text x="358.4" y="415.75" font-size="7.8" text-anchor="end" stroke="#000" stroke-width="0.3">500</text>
<line x1="368.7" y1="387.2" x2="370.4" y2="387.2" stroke="#444" stroke-width="0.8"/>
<text x="358.4" y="389.5" font-size="7.8" text-anchor="end" textLength="16.0" lengthAdjust="spacingAndGlyphs" stroke="#000" stroke-width="0.3">1000</text>
<text x="367.5" y="454.6" font-size="7.5" text-anchor="middle" stroke="#000" stroke-width="0.3">0</text>
<text x="400.8" y="454.6" font-size="7.5" text-anchor="middle" stroke="#000" stroke-width="0.3">24</text>
<text x="434.5" y="454.6" font-size="7.5" text-anchor="middle" stroke="#000" stroke-width="0.3">48</text>
<text x="468.0" y="454.6" font-size="7.5" text-anchor="middle" stroke="#000" stroke-width="0.3">72</text>
<text x="473.9" y="454.3" font-size="7.2" textLength="8.4" lengthAdjust="spacingAndGlyphs" stroke="#000" stroke-width="0.1">(h)</text>
<polyline points="368.70,439.70 370.93,400.06 375.68,427.73 385.45,439.70 402.20,439.70 435.71,439.70 469.21,439.70" fill="none" stroke="#1a1a1a" stroke-width="1.15" stroke-dasharray="2 0.4"/>
<polyline points="368.70,439.70 370.93,393.50 375.68,436.18 385.45,439.70 402.20,439.70 435.71,439.70 469.21,439.70" fill="none" stroke="#000" stroke-width="1.95" stroke-linejoin="round"/>
<rect x="366.40" y="437.40" width="4.6" height="4.6" fill="#000"/>
<rect x="368.63" y="391.20" width="4.6" height="4.6" fill="#000"/>
<rect x="373.38" y="433.88" width="4.6" height="4.6" fill="#000"/>
<rect x="383.15" y="437.40" width="4.6" height="4.6" fill="#000"/>
<rect x="399.90" y="437.40" width="4.6" height="4.6" fill="#000"/>
<rect x="433.41" y="437.40" width="4.6" height="4.6" fill="#000"/>
<rect x="466.91" y="437.40" width="4.6" height="4.6" fill="#000"/>
<rect x="366.65" y="437.65" width="4.1" height="4.1" fill="#fff" stroke="#111" stroke-width="1.05"/>
<rect x="368.88" y="398.01" width="4.1" height="4.1" fill="#fff" stroke="#111" stroke-width="1.05"/>
<rect x="373.63" y="425.68" width="4.1" height="4.1" fill="#fff" stroke="#111" stroke-width="1.05"/>
<rect x="383.40" y="437.65" width="4.1" height="4.1" fill="#fff" stroke="#111" stroke-width="1.05"/>
<rect x="400.15" y="437.65" width="4.1" height="4.1" fill="#fff" stroke="#111" stroke-width="1.05"/>
<rect x="433.66" y="437.65" width="4.1" height="4.1" fill="#fff" stroke="#111" stroke-width="1.05"/>
<rect x="467.16" y="437.65" width="4.1" height="4.1" fill="#fff" stroke="#111" stroke-width="1.05"/>
<text x="338.4" y="427.8" font-size="6.6" textLength="41.2" lengthAdjust="spacingAndGlyphs" transform="rotate(-90 338.4 427.8)" stroke="#000" stroke-width="0.2">IL-4 (pg/mL)</text>
<text x="58.0" y="260.3" font-size="8.6" font-weight="bold">1<tspan font-size="5.5" dy="-3.6">st</tspan></text>
<text x="71.5" y="260.3" font-size="8.8" font-weight="bold" textLength="31.6" lengthAdjust="spacingAndGlyphs">injection</text>
<text x="227.2" y="260.3" font-size="8.6" font-weight="bold">2<tspan font-size="5.5" dy="-3.6">nd</tspan></text>
<text x="241.8" y="260.3" font-size="8.8" font-weight="bold" textLength="31.7" lengthAdjust="spacingAndGlyphs">injection</text>
<text x="370.6" y="260.3" font-size="8.6" font-weight="bold">3<tspan font-size="5.5" dy="-3.6">rd</tspan></text>
<text x="384.6" y="260.3" font-size="8.8" font-weight="bold" textLength="30.8" lengthAdjust="spacingAndGlyphs">injection</text>
<line x1="470.4" y1="261.9" x2="503.6" y2="261.9" stroke="#000" stroke-width="2"/>
<rect x="483.5" y="259.0" width="5.6" height="5.8" fill="#000"/>
<text x="468.4" y="278.6" font-size="9.5" textLength="36" lengthAdjust="spacingAndGlyphs" stroke="#000" stroke-width="0.3"><tspan font-family="Liberation Serif">α</tspan>-GalCer</text>
<line x1="470.4" y1="293.3" x2="503.6" y2="293.3" stroke="#222" stroke-width="1.6" stroke-dasharray="1.1 0.45"/>
<rect x="483.7" y="290.6" width="5.3" height="5.4" fill="#fff" stroke="#111" stroke-width="1.1"/>
<text x="479.1" y="307.2" font-size="10" textLength="17.6" lengthAdjust="spacingAndGlyphs" stroke="#000" stroke-width="0.3">OCH</text>
</svg>
</body></html>
